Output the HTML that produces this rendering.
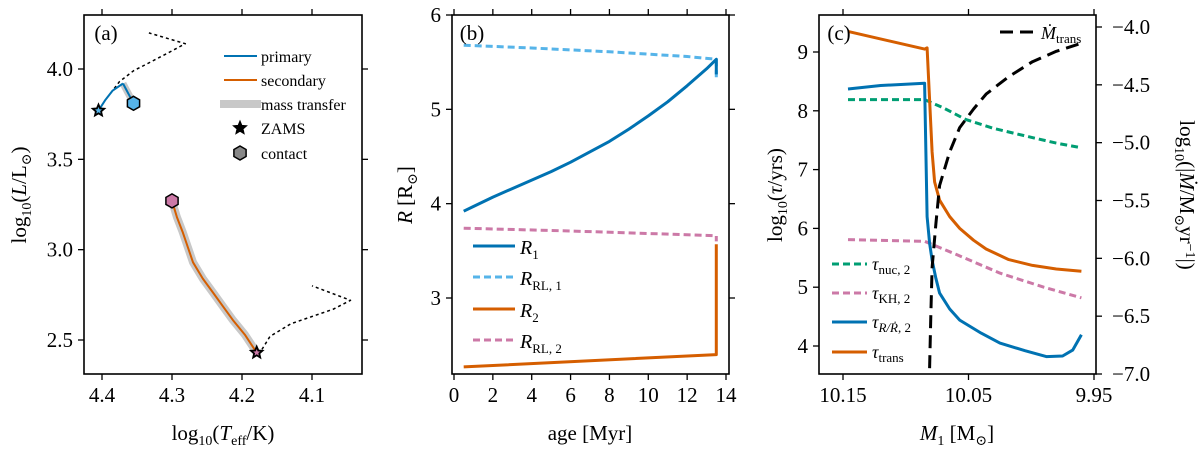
<!DOCTYPE html>
<html><head><meta charset="utf-8"><style>
body{margin:0;background:#fff}
svg, svg text{font-family:"Liberation Serif","DejaVu Serif",serif}
</style></head><body>
<svg id="fig" width="1200" height="450" viewBox="0 0 1200 450" xmlns="http://www.w3.org/2000/svg" font-family="Liberation Serif, DejaVu Serif, serif"></svg>
<script>
// ---------- Panel (a) data: HR diagram ----------
const primT = [4.405, 4.395, 4.385, 4.37];
const primL = [3.77, 3.83, 3.88, 3.92];
const primMT_T = [4.37, 4.355];
const primMT_L = [3.92, 3.81];
const primDotT = [4.393, 4.375, 4.355, 4.33, 4.305, 4.281, 4.333];
const primDotL = [3.84, 3.93, 3.99, 4.04, 4.09, 4.14, 4.20];
const secT = [4.300, 4.293, 4.285, 4.277, 4.270, 4.256, 4.241, 4.227, 4.213, 4.196, 4.179];
const secL = [3.27, 3.18, 3.10, 3.01, 2.93, 2.84, 2.76, 2.685, 2.61, 2.53, 2.43];
const secDotT = [4.176, 4.16, 4.13, 4.10, 4.07, 4.045, 4.10];
const secDotL = [2.42, 2.52, 2.59, 2.63, 2.67, 2.72, 2.80];
const aXTicks = [4.4, 4.3, 4.2, 4.1];
const aYTicks = [2.5, 3.0, 3.5, 4.0];
// ---------- Panel (b) data: radii ----------
const ageR1 = [0.5, 1, 2, 3, 4, 5, 6, 7, 8, 9, 10, 11, 12, 13, 13.5, 13.5];
const R1 = [3.92, 3.97, 4.07, 4.16, 4.25, 4.34, 4.44, 4.55, 4.66, 4.79, 4.93, 5.08, 5.25, 5.43, 5.53, 5.37];
const ageRL1 = [0.5, 4, 8, 12, 13.5, 13.5];
const RL1 = [5.68, 5.65, 5.61, 5.56, 5.53, 5.30];
const ageR2 = [0.5, 13.5, 13.5];
const R2 = [2.27, 2.40, 3.57];
const ageRL2 = [0.5, 6, 13.5, 13.5];
const RL2 = [3.74, 3.71, 3.66, 3.60];
const bXTicks = [0, 2, 4, 6, 8, 10, 12, 14];
const bYTicks = [3, 4, 5, 6];
// ---------- Panel (c) data: timescales ----------
const mTrans = [10.146, 10.085, 10.083, 10.079, 10.077, 10.073, 10.065, 10.057, 10.046, 10.036, 10.018, 9.999, 9.98, 9.96];
const tauTrans = [9.35, 9.05, 9.07, 7.3, 6.79, 6.48, 6.2, 6.0, 5.8, 5.65, 5.47, 5.37, 5.31, 5.27];
const mR = [10.146, 10.12, 10.085, 10.083, 10.081, 10.079, 10.076, 10.073, 10.065, 10.057, 10.04, 10.025, 10.005, 9.988, 9.975, 9.967, 9.96];
const tauR = [8.37, 8.43, 8.47, 6.2, 5.75, 5.46, 5.15, 4.9, 4.63, 4.44, 4.22, 4.05, 3.92, 3.82, 3.83, 3.93, 4.19];
const mNuc = [10.146, 10.085, 10.07, 10.052, 10.03, 10.0, 9.98, 9.96];
const tauNuc = [8.19, 8.19, 8.05, 7.85, 7.7, 7.55, 7.45, 7.37];
const mKH = [10.146, 10.085, 10.06, 10.025, 9.99, 9.96];
const tauKH = [5.81, 5.78, 5.56, 5.24, 5.0, 4.82];
const mDot = [10.081, 10.080, 10.079, 10.076, 10.073, 10.065, 10.057, 10.046, 10.036, 10.018, 9.999, 9.98, 9.96];
const logMdot = [-6.95, -6.5, -6.08, -5.7, -5.37, -5.08, -4.87, -4.71, -4.58, -4.43, -4.3, -4.21, -4.14];
const cXTicks = [10.15, 10.05, 9.95];
const cYTicks = [4, 5, 6, 7, 8, 9];
const cY2Ticks = [-7.0, -6.5, -6.0, -5.5, -5.0, -4.5, -4.0];

const NS = "http://www.w3.org/2000/svg";
const FONT = '"Liberation Serif", "DejaVu Serif", serif';
const svg = document.getElementById('fig');
function el(tag, attrs, parent) {
  const e = document.createElementNS(NS, tag);
  for (const k in attrs) e.setAttribute(k, attrs[k]);
  (parent || svg).appendChild(e);
  return e;
}
function lin(d0, d1, r0, r1) { return v => r0 + (v - d0) * (r1 - r0) / (d1 - d0); }
function pts(xs, ys, fx, fy) { return xs.map((x, i) => fx(x).toFixed(1) + ',' + fy(ys[i]).toFixed(1)).join(' '); }
function frame(x0, y0, x1, y1) {
  el('rect', {x: x0, y: y0, width: x1 - x0, height: y1 - y0, fill: 'none', stroke: '#000', 'stroke-width': 1.6});
}
function txt(x, y, s, size, anchor, parent) {
  const t = el('text', {x: x, y: y, 'font-size': size, 'text-anchor': anchor || 'middle', fill: '#000'}, parent);
  t.style.fontFamily = FONT;
  t.innerHTML = s;
  return t;
}
const TL = 6;
const LJ = {'stroke-linejoin': 'round', 'stroke-linecap': 'butt'};
function line(xs, ys, fx, fy, attrs, parent) {
  return el('polyline', Object.assign({points: pts(xs, ys, fx, fy), fill: 'none', 'stroke-linejoin': 'round'}, attrs), parent);
}

// ===== Panel A =====
const ax = lin(4.4, 4.1, 102, 312), ay = lin(4.0, 2.5, 69, 340);
const gA = el('g', {});


aXTicks.forEach(v => {
  const x = ax(v);
  el('line', {x1: x, x2: x, y1: 374, y2: 374 + TL, stroke: '#000', 'stroke-width': 1.3}, gA);
  el('line', {x1: x, x2: x, y1: 15, y2: 15 - TL, stroke: '#000', 'stroke-width': 1.3}, gA);
  const t = txt(x, 402, v.toFixed(1), 21, 'middle', gA);
  
  
});
aYTicks.forEach(v => {
  const y = ay(v);
  el('line', {x1: 84, x2: 84 - TL, y1: y, y2: y, stroke: '#000', 'stroke-width': 1.3}, gA);
  el('line', {x1: 362, x2: 362 + TL, y1: y, y2: y, stroke: '#000', 'stroke-width': 1.3}, gA);
  const t = txt(73, y + 7, v.toFixed(1), 21, 'end', gA);
  
  
});
line(primMT_T, primMT_L, ax, ay, {stroke: '#c8c8c8', 'stroke-width': 7}, gA);
line(secT, secL, ax, ay, {stroke: '#c8c8c8', 'stroke-width': 8}, gA);
line(primDotT, primDotL, ax, ay, {stroke: '#000', 'stroke-width': 1.5, 'stroke-dasharray': '3,3'}, gA);
line(secDotT, secDotL, ax, ay, {stroke: '#000', 'stroke-width': 1.5, 'stroke-dasharray': '3,3'}, gA);
const pl = line(primT, primL, ax, ay, {stroke: '#0072b2', 'stroke-width': 2}, gA);


line(primMT_T, primMT_L, ax, ay, {stroke: '#0072b2', 'stroke-width': 2}, gA);
const sl = line(secT, secL, ax, ay, {stroke: '#d55e00', 'stroke-width': 2}, gA);


function star(cx, cy, r, fill, parent) {
  let p = [];
  for (let i = 0; i < 10; i++) {
    const a = -Math.PI / 2 + i * Math.PI / 5, rr = i % 2 ? r * 0.45 : r;
    p.push((cx + rr * Math.cos(a)).toFixed(1) + ',' + (cy + rr * Math.sin(a)).toFixed(1));
  }
  return el('polygon', {points: p.join(' '), fill: fill, stroke: '#000', 'stroke-width': 1.8}, parent);
}
function hexa(cx, cy, r, fill, parent) {
  let p = [];
  for (let i = 0; i < 6; i++) {
    const a = -Math.PI / 2 + i * Math.PI / 3;
    p.push((cx + r * Math.cos(a)).toFixed(1) + ',' + (cy + r * Math.sin(a)).toFixed(1));
  }
  return el('polygon', {points: p.join(' '), fill: fill, stroke: '#000', 'stroke-width': 1.5}, parent);
}
star(ax(primT[0]), ay(primL[0]), 6, '#56b4e9', gA);
star(ax(secT[secT.length - 1]), ay(secL[secL.length - 1]), 6, '#cc79a7', gA);
hexa(ax(primMT_T[1]), ay(primMT_L[1]), 7, '#56b4e9', gA);
hexa(ax(secT[0]), ay(secL[0]), 7, '#cc79a7', gA);
frame(84, 15, 362, 374);
txt(106, 40, '(a)', 21, 'middle', gA);
const lgA = el('g', {}, gA);


el('line', {x1: 224, x2: 257, y1: 56, y2: 56, stroke: '#0072b2', 'stroke-width': 2}, lgA);
el('line', {x1: 224, x2: 257, y1: 80, y2: 80, stroke: '#d55e00', 'stroke-width': 2}, lgA);
el('line', {x1: 220, x2: 261, y1: 104, y2: 104, stroke: '#c8c8c8', 'stroke-width': 8}, lgA);
star(240, 128, 6, '#000', lgA);
hexa(240, 153, 7, '#888', lgA);
txt(261, 62, 'primary', 16, 'start', lgA);
txt(261, 86, 'secondary', 16, 'start', lgA);
txt(261, 110, 'mass transfer', 16, 'start', lgA);
txt(261, 134, 'ZAMS', 16, 'start', lgA);
txt(261, 159, 'contact', 16, 'start', lgA);
const xlA = txt(223, 440, 'log<tspan font-size="14" dy="5">10</tspan><tspan dy="-5">(</tspan><tspan font-style="italic">T</tspan><tspan font-size="14" dy="5">eff</tspan><tspan dy="-5">/K)</tspan>', 21, 'middle', gA);


const ylA = txt(0, 0, 'log<tspan font-size="14" dy="5">10</tspan><tspan dy="-5">(</tspan><tspan font-style="italic">L</tspan>/L<tspan font-size="14" dy="5">⊙</tspan><tspan dy="-5">)</tspan>', 21, 'middle', gA);
ylA.setAttribute('transform', 'translate(26,195) rotate(-90)');



// ===== Panel B =====
const bx = lin(0, 14, 454, 726), by = lin(6, 3, 15, 298);
const gB = el('g', {});


bXTicks.forEach(v => {
  const x = bx(v);
  el('line', {x1: x, x2: x, y1: 374, y2: 374 + TL, stroke: '#000', 'stroke-width': 1.3}, gB);
  el('line', {x1: x, x2: x, y1: 15, y2: 15 - TL, stroke: '#000', 'stroke-width': 1.3}, gB);
  const t = txt(x, 402, String(v), 21, 'middle', gB);
  
  
});
bYTicks.forEach(v => {
  const y = by(v);
  el('line', {x1: 452, x2: 452 - TL, y1: y, y2: y, stroke: '#000', 'stroke-width': 1.3}, gB);
  el('line', {x1: 729, x2: 729 + TL, y1: y, y2: y, stroke: '#000', 'stroke-width': 1.3}, gB);
  const t = txt(441, y + 7, String(v), 21, 'end', gB);
  
  
});
const rl1 = line(ageRL1, RL1, bx, by, {stroke: '#56b4e9', 'stroke-width': 3, 'stroke-dasharray': '7,4'}, gB);


const r1 = line(ageR1, R1, bx, by, {stroke: '#0072b2', 'stroke-width': 3}, gB);


const rl2 = line(ageRL2, RL2, bx, by, {stroke: '#cc79a7', 'stroke-width': 3, 'stroke-dasharray': '7,4'}, gB);


const r2 = line(ageR2, R2, bx, by, {stroke: '#d55e00', 'stroke-width': 3}, gB);


frame(452, 15, 729, 374);
txt(472, 40, '(b)', 21, 'middle', gB);
const lgB = el('g', {}, gB);


el('line', {x1: 473, x2: 515, y1: 246, y2: 246, stroke: '#0072b2', 'stroke-width': 3}, lgB);
el('line', {x1: 473, x2: 515, y1: 277, y2: 277, stroke: '#56b4e9', 'stroke-width': 3, 'stroke-dasharray': '7,4'}, lgB);
el('line', {x1: 473, x2: 515, y1: 309, y2: 309, stroke: '#d55e00', 'stroke-width': 3}, lgB);
el('line', {x1: 473, x2: 515, y1: 340, y2: 340, stroke: '#cc79a7', 'stroke-width': 3, 'stroke-dasharray': '7,4'}, lgB);
txt(520, 254, '<tspan font-style="italic">R</tspan><tspan font-size="13" dy="5">1</tspan>', 20, 'start', lgB);
txt(520, 285, '<tspan font-style="italic">R</tspan><tspan font-size="13" dy="5">RL, 1</tspan>', 20, 'start', lgB);
txt(520, 317, '<tspan font-style="italic">R</tspan><tspan font-size="13" dy="5">2</tspan>', 20, 'start', lgB);
txt(520, 348, '<tspan font-style="italic">R</tspan><tspan font-size="13" dy="5">RL, 2</tspan>', 20, 'start', lgB);
const xlB = txt(590, 440, 'age [Myr]', 21, 'middle', gB);


const ylB = txt(0, 0, '<tspan font-style="italic">R</tspan> [R<tspan font-size="14" dy="5">⊙</tspan><tspan dy="-5">]</tspan>', 21, 'middle', gB);
ylB.setAttribute('transform', 'translate(412,195) rotate(-90)');



// ===== Panel C =====
const cx = lin(10.15, 9.95, 843, 1094), cy = lin(9, 4, 52, 346), cy2 = lin(-4, -7, 27, 374);
const gC = el('g', {});


cXTicks.forEach(v => {
  const x = cx(v);
  el('line', {x1: x, x2: x, y1: 374, y2: 374 + TL, stroke: '#000', 'stroke-width': 1.3}, gC);
  el('line', {x1: x, x2: x, y1: 15, y2: 15 - TL, stroke: '#000', 'stroke-width': 1.3}, gC);
  const t = txt(x, 402, v.toFixed(2), 21, 'middle', gC);
  
  
});
cYTicks.forEach(v => {
  const y = cy(v);
  el('line', {x1: 819, x2: 819 - TL, y1: y, y2: y, stroke: '#000', 'stroke-width': 1.3}, gC);
  const t = txt(808, y + 7, String(v), 21, 'end', gC);
  
  
});
cY2Ticks.forEach(v => {
  const y = cy2(v);
  el('line', {x1: 1096, x2: 1096 + TL, y1: y, y2: y, stroke: '#000', 'stroke-width': 1.3}, gC);
  const t = txt(1112, y + 7, '−' + Math.abs(v).toFixed(1), 21, 'start', gC);
  
  
});
const nucL = line(mNuc, tauNuc, cx, cy, {stroke: '#009e73', 'stroke-width': 3, 'stroke-dasharray': '7,4'}, gC);


const khL = line(mKH, tauKH, cx, cy, {stroke: '#cc79a7', 'stroke-width': 3, 'stroke-dasharray': '7,4'}, gC);


const rL = line(mR, tauR, cx, cy, {stroke: '#0072b2', 'stroke-width': 3}, gC);


const trL = line(mTrans, tauTrans, cx, cy, {stroke: '#d55e00', 'stroke-width': 3}, gC);


const mdL = line(mDot, logMdot, cx, cy2, {stroke: '#000', 'stroke-width': 3, 'stroke-dasharray': '13,7'}, gC);


frame(819, 15, 1096, 374);
txt(839, 40, '(c)', 21, 'middle', gC);
const lgC = el('g', {}, gC);


el('line', {x1: 1000, x2: 1037, y1: 32, y2: 32, stroke: '#000', 'stroke-width': 3, 'stroke-dasharray': '13,7'}, lgC);
txt(1041, 39, '<tspan font-style="italic">Ṁ</tspan><tspan font-size="13" dy="4">trans</tspan>', 18, 'start', lgC);
el('line', {x1: 832, x2: 867, y1: 264, y2: 264, stroke: '#009e73', 'stroke-width': 3, 'stroke-dasharray': '7,4'}, lgC);
el('line', {x1: 832, x2: 867, y1: 293, y2: 293, stroke: '#cc79a7', 'stroke-width': 3, 'stroke-dasharray': '7,4'}, lgC);
el('line', {x1: 832, x2: 867, y1: 322, y2: 322, stroke: '#0072b2', 'stroke-width': 3}, lgC);
el('line', {x1: 832, x2: 867, y1: 352, y2: 352, stroke: '#d55e00', 'stroke-width': 3}, lgC);
txt(872, 270, '<tspan font-style="italic">τ</tspan><tspan font-size="13" dy="4">nuc, 2</tspan>', 18, 'start', lgC);
txt(872, 299, '<tspan font-style="italic">τ</tspan><tspan font-size="13" dy="4">KH, 2</tspan>', 18, 'start', lgC);
txt(872, 328, '<tspan font-style="italic">τ</tspan><tspan font-size="13" dy="4" font-style="italic">R/Ṙ</tspan><tspan font-size="13">, 2</tspan>', 18, 'start', lgC);
txt(872, 358, '<tspan font-style="italic">τ</tspan><tspan font-size="13" dy="4">trans</tspan>', 18, 'start', lgC);
const xlC = txt(957, 440, '<tspan font-style="italic">M</tspan><tspan font-size="14" dy="5">1</tspan><tspan dy="-5"> [M</tspan><tspan font-size="14" dy="5">⊙</tspan><tspan dy="-5">]</tspan>', 21, 'middle', gC);


const ylC = txt(0, 0, 'log<tspan font-size="14" dy="5">10</tspan><tspan dy="-5">(</tspan><tspan font-style="italic">τ</tspan>/yrs)', 21, 'middle', gC);
ylC.setAttribute('transform', 'translate(782,195) rotate(-90)');


const ylC2 = txt(0, 0, 'log<tspan font-size="14" dy="5">10</tspan><tspan dy="-5">(|</tspan><tspan font-style="italic">Ṁ</tspan>/M<tspan font-size="14" dy="5">⊙</tspan><tspan dy="-5">yr</tspan><tspan font-size="14" dy="-6">−1</tspan><tspan dy="6">|)</tspan>', 21, 'middle', gC);
ylC2.setAttribute('transform', 'translate(1180,195) rotate(90)');


</script>
</body></html>
